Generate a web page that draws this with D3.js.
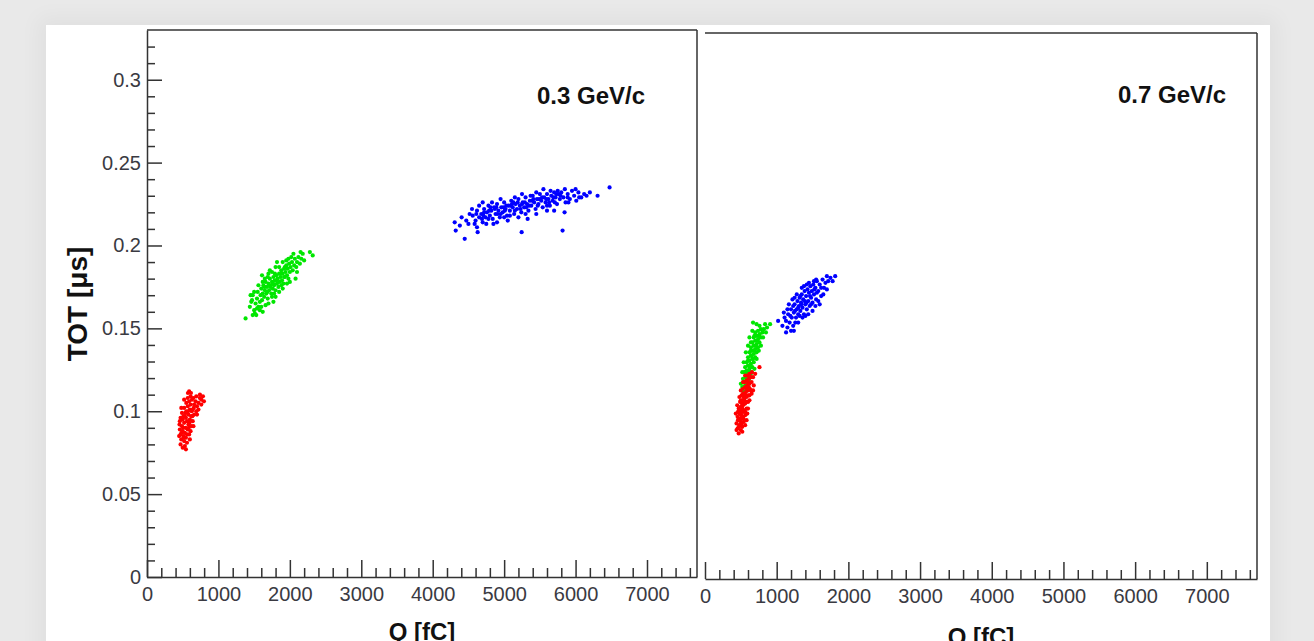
<!DOCTYPE html>
<html>
<head>
<meta charset="utf-8">
<script src="https://cdn.jsdelivr.net/npm/d3@7"></script>
<style>
  body { margin: 0; background: #e9e9e9; overflow: hidden; }
  #card { position: absolute; left: 46px; top: 25px; width: 1224px; height: 640px; background: #fff;
          box-shadow: 0 0 20px 8px rgba(0,0,0,0.04); }
  #chart { position: absolute; left: 0; top: 0; }
  text { font-family: "Liberation Sans", Arial, sans-serif; }
</style>
</head>
<body>
<div id="card"></div>
<svg id="chart" width="1314" height="641"></svg>
<script>
// tick labels
const xTicks = [0, 1000, 2000, 3000, 4000, 5000, 6000, 7000];
const yTicks = [0, 0.05, 0.1, 0.15, 0.2, 0.25, 0.3];
const xDomain = [0, 7700];
const yDomain = [0, 0.33];

// 0.3 GeV/c : [Q fC, TOT us]
const redLow = [[470,0.080],[500,0.078],[545,0.077],[520,0.082],[480,0.083],[560,0.081],[510,0.085],[470,0.086],[545,0.084],[590,0.086],[500,0.088],[530,0.087],[460,0.089],[570,0.089],[610,0.088],[490,0.091],[540,0.090],[580,0.092],[455,0.092],[520,0.093],[620,0.091],[500,0.095],[560,0.094],[600,0.095],[470,0.096],[640,0.094],[530,0.097],[580,0.098],[620,0.097],[490,0.099],[550,0.100],[660,0.098],[600,0.101],[520,0.102],[570,0.103],[640,0.101],[690,0.100],[610,0.104],[550,0.105],[660,0.104],[590,0.106],[700,0.103],[630,0.107],[570,0.108],[680,0.106],[720,0.105],[610,0.109],[650,0.108],[740,0.108],[690,0.109],[573,0.111],[615,0.111],[741,0.110],[783,0.109],[797,0.106],[760,0.104],[545,0.096],[505,0.090],[485,0.087],[530,0.079],[595,0.093],[625,0.100],[575,0.100],[540,0.099],[655,0.102],[510,0.097],[560,0.086],[515,0.084],[585,0.090],[635,0.097],[450,0.085],[600,0.083],[460,0.094],[650,0.091],[480,0.102],[700,0.098],[520,0.107],[720,0.101],[590,0.112],[760,0.107]];
const greenLow = [[1380,0.156],[1510,0.159],[1440,0.163],[1470,0.167],[1500,0.161],[1520,0.165],[1480,0.170],[1540,0.168],[1560,0.163],[1550,0.172],[1580,0.166],[1590,0.170],[1600,0.174],[1610,0.167],[1620,0.171],[1630,0.176],[1640,0.169],[1650,0.173],[1660,0.178],[1670,0.171],[1680,0.175],[1690,0.168],[1700,0.177],[1710,0.173],[1720,0.180],[1730,0.175],[1740,0.171],[1750,0.178],[1760,0.174],[1770,0.181],[1780,0.176],[1790,0.179],[1800,0.173],[1810,0.182],[1820,0.177],[1830,0.180],[1840,0.175],[1850,0.183],[1860,0.178],[1870,0.181],[1880,0.185],[1890,0.179],[1900,0.183],[1910,0.177],[1920,0.186],[1930,0.181],[1940,0.184],[1950,0.188],[1960,0.182],[1970,0.186],[1980,0.180],[1990,0.189],[2000,0.184],[2010,0.187],[2030,0.190],[2040,0.185],[2060,0.188],[2070,0.192],[2090,0.187],[2100,0.190],[2120,0.193],[2140,0.189],[2160,0.192],[2180,0.195],[2200,0.191],[2280,0.196],[2320,0.194],[1580,0.161],[1660,0.164],[1750,0.169],[1850,0.172],[1960,0.177],[1620,0.178],[1700,0.183],[1800,0.187],[1900,0.190],[2050,0.195],[1725,0.176],[1765,0.177],[1815,0.179],[1685,0.172],[1875,0.183],[1645,0.175],[1790,0.183],[1920,0.181],[1450,0.170],[1500,0.172],[1530,0.158],[1600,0.163],[1650,0.180],[1700,0.165],[1750,0.184],[1800,0.169],[1850,0.187],[1900,0.174],[1950,0.191],[2000,0.178],[2100,0.184],[2150,0.196],[1560,0.176],[1690,0.181],[1820,0.190],[1480,0.158],[1620,0.160],[1770,0.166],[1980,0.192],[2080,0.180],[1540,0.162],[1720,0.185],[1880,0.176],[1610,0.182],[1460,0.166],[1780,0.171],[1930,0.187],[2020,0.193]];
const blueLow = [[4308,0.214],[4322,0.209],[4448,0.204],[4629,0.208],[5245,0.208],[5818,0.209],[5329,0.216],[5846,0.220],[6308,0.230],[6476,0.235],[6154,0.230],[4405,0.217],[4517,0.219],[4587,0.213],[4380,0.212],[4470,0.215],[4560,0.218],[4600,0.215],[4620,0.221],[4650,0.217],[4680,0.219],[4700,0.214],[4720,0.222],[4740,0.217],[4760,0.220],[4780,0.224],[4800,0.218],[4820,0.221],[4840,0.216],[4860,0.223],[4880,0.219],[4900,0.225],[4920,0.221],[4940,0.217],[4960,0.223],[4980,0.220],[5000,0.226],[5020,0.222],[5040,0.218],[5060,0.224],[5080,0.221],[5100,0.227],[5120,0.223],[5140,0.219],[5160,0.225],[5180,0.222],[5200,0.228],[5220,0.224],[5240,0.220],[5260,0.226],[5280,0.223],[5300,0.229],[5320,0.225],[5340,0.221],[5360,0.227],[5380,0.224],[5400,0.230],[5420,0.226],[5440,0.222],[5460,0.228],[5480,0.225],[5500,0.231],[5520,0.227],[5540,0.223],[5560,0.229],[5580,0.226],[5600,0.231],[5620,0.228],[5640,0.224],[5660,0.230],[5680,0.227],[5700,0.232],[5720,0.229],[5740,0.225],[5760,0.231],[5780,0.228],[5800,0.232],[5830,0.229],[5860,0.226],[5890,0.231],[5920,0.228],[5950,0.233],[5980,0.230],[6010,0.227],[6040,0.232],[6080,0.229],[6120,0.231],[6000,0.234],[5850,0.234],[5650,0.233],[4650,0.224],[4750,0.213],[4900,0.214],[5050,0.215],[5200,0.217],[5450,0.219],[5600,0.221],[4720,0.220],[4870,0.222],[5030,0.224],[5150,0.221],[5310,0.223],[5470,0.224],[5590,0.228],[5710,0.226],[4950,0.219],[5250,0.225],[5370,0.230],[5110,0.225],[4830,0.226],[4690,0.216],[4790,0.221],[4890,0.223],[4990,0.223],[5090,0.224],[5190,0.226],[5290,0.226],[5390,0.227],[5490,0.228],[5690,0.229],[5790,0.230],[5890,0.229],[4610,0.219],[4710,0.218],[4810,0.223],[4910,0.219],[5010,0.221],[5130,0.226],[5230,0.222],[5350,0.224],[5410,0.228],[5530,0.229],[5630,0.226],[5730,0.231],[4500,0.213],[4550,0.222],[4700,0.226],[4850,0.213],[5000,0.217],[5150,0.229],[5300,0.219],[5450,0.232],[5600,0.224],[5750,0.233],[5900,0.226],[6050,0.229],[6200,0.232],[4620,0.211],[4950,0.228],[5250,0.231],[5550,0.234],[5700,0.221],[4780,0.216],[5080,0.218]];

// 0.7 GeV/c
const redHigh = [[470,0.088],[500,0.090],[455,0.091],[520,0.089],[480,0.093],[440,0.094],[510,0.094],[470,0.096],[540,0.095],[495,0.097],[455,0.098],[525,0.098],[560,0.099],[480,0.100],[510,0.101],[545,0.102],[470,0.103],[580,0.103],[500,0.104],[530,0.105],[560,0.106],[490,0.107],[600,0.107],[520,0.108],[550,0.109],[580,0.110],[510,0.111],[620,0.111],[545,0.112],[570,0.113],[600,0.114],[530,0.115],[640,0.114],[560,0.116],[590,0.117],[620,0.118],[555,0.119],[650,0.119],[580,0.120],[610,0.121],[640,0.122],[590,0.123],[670,0.122],[620,0.124],[700,0.124],[655,0.125],[760,0.128],[500,0.095],[530,0.101],[505,0.099],[475,0.092],[520,0.103],[545,0.107],[565,0.111],[585,0.115],[600,0.119],[535,0.097],[490,0.102],[515,0.106],[540,0.110],[625,0.115],[460,0.096],[575,0.107],[605,0.111],[495,0.093],[430,0.100],[560,0.093],[450,0.105],[590,0.100],[480,0.110],[620,0.108],[500,0.114],[650,0.112],[530,0.119],[680,0.117],[560,0.123],[520,0.092],[600,0.103],[460,0.101],[530,0.112],[670,0.114],[610,0.116],[560,0.101],[500,0.108],[440,0.090],[580,0.096]];
const greenHigh = [[540,0.113],[575,0.114],[520,0.116],[560,0.117],[600,0.116],[545,0.119],[585,0.120],[530,0.121],[615,0.121],[565,0.122],[600,0.124],[550,0.125],[640,0.124],[580,0.126],[620,0.127],[560,0.128],[660,0.128],[600,0.129],[640,0.130],[580,0.131],[680,0.131],[620,0.132],[660,0.133],[600,0.134],[700,0.134],[640,0.135],[680,0.136],[620,0.137],[720,0.137],[660,0.138],[700,0.139],[640,0.140],[740,0.140],[680,0.141],[720,0.142],[660,0.143],[760,0.143],[700,0.144],[740,0.145],[680,0.146],[780,0.146],[720,0.147],[760,0.148],[700,0.149],[800,0.149],[740,0.150],[780,0.151],[820,0.151],[670,0.155],[838,0.154],[908,0.154],[760,0.153],[610,0.126],[650,0.135],[690,0.138],[730,0.144],[590,0.123],[630,0.128],[670,0.133],[710,0.141],[750,0.147],[560,0.125],[575,0.118],[865,0.152],[640,0.143],[500,0.118],[620,0.119],[520,0.125],[650,0.125],[540,0.131],[690,0.127],[570,0.137],[720,0.133],[600,0.141],[750,0.138],[620,0.146],[780,0.141],[660,0.150],[810,0.146],[720,0.154],[850,0.149],[580,0.116],[600,0.132],[640,0.138],[690,0.147]];
const blueHigh = [[1020,0.156],[1131,0.149],[1080,0.153],[1110,0.158],[1150,0.152],[1160,0.160],[1180,0.155],[1200,0.163],[1210,0.158],[1230,0.153],[1240,0.161],[1250,0.166],[1270,0.158],[1280,0.163],[1290,0.168],[1300,0.160],[1310,0.165],[1320,0.170],[1330,0.162],[1340,0.167],[1350,0.172],[1360,0.164],[1370,0.169],[1380,0.160],[1390,0.174],[1400,0.166],[1410,0.171],[1420,0.163],[1430,0.175],[1440,0.168],[1450,0.173],[1460,0.165],[1470,0.177],[1480,0.170],[1490,0.174],[1500,0.167],[1510,0.178],[1520,0.172],[1540,0.176],[1550,0.169],[1560,0.180],[1580,0.174],[1600,0.178],[1620,0.171],[1640,0.181],[1660,0.176],[1680,0.179],[1718,0.180],[1750,0.182],[1816,0.183],[1230,0.165],[1330,0.171],[1260,0.155],[1360,0.158],[1420,0.178],[1540,0.165],[1390,0.168],[1345,0.166],[1415,0.167],[1465,0.171],[1300,0.164],[1190,0.159],[1580,0.168],[1130,0.156],[1255,0.162],[1525,0.175],[1150,0.163],[1200,0.150],[1250,0.170],[1300,0.155],[1350,0.176],[1400,0.159],[1450,0.179],[1500,0.162],[1550,0.181],[1600,0.166],[1650,0.172],[1700,0.175],[1100,0.161],[1170,0.166],[1280,0.172],[1440,0.160],[1380,0.177],[1560,0.173],[1620,0.176],[1480,0.166],[1320,0.159],[1220,0.169],[1520,0.180],[1700,0.183],[1780,0.180],[1240,0.150]];

const colors = { red: '#ff0000', green: '#00e600', blue: '#0000ff' };

/** One framed ROOT-style scatter pad. */
class Pad {
    constructor(svg, left, top, right, bottom) {
        this.g = svg.append('g');
        this.left = left; this.top = top; this.right = right; this.bottom = bottom;
        this.x = d3.scaleLinear().domain(xDomain).range([left, right]);
        this.y = d3.scaleLinear().domain(yDomain).range([bottom, top]);
    }

    drawFrame() {
        let f = this.g.append('g').attr('fill', 'none').attr('stroke', '#333').attr('stroke-width', 1.5);
        f.append('line').attr('x1', this.left).attr('x2', this.right).attr('y1', this.top).attr('y2', this.top);
        f.append('line').attr('x1', this.right).attr('x2', this.right).attr('y1', this.top).attr('y2', this.bottom);
    }

    drawXAxis() {
        let minor = d3.range(0, xDomain[1] + 1, 200).filter(v => v % 1000 !== 0);
        this.g.append('g')
            .attr('transform', 'translate(0,' + this.bottom + ')')
            .call(d3.axisBottom(this.x).tickValues(minor).tickSize(-9).tickFormat(''))
            .call(g => g.select('.domain').remove());
        let ax = this.g.append('g')
            .attr('transform', 'translate(0,' + this.bottom + ')')
            .call(d3.axisBottom(this.x).tickValues(xTicks).tickSizeInner(-17).tickSizeOuter(0)
                .tickPadding(10).tickFormat(d => String(d)));
        ax.selectAll('path').attr('stroke', '#333').attr('stroke-width', 1.5);
        ax.selectAll('text').attr('font-size', 20).attr('fill', '#3a3a42');
        this.g.selectAll('.tick line').attr('stroke', '#333').attr('stroke-width', 1.5);
    }

    drawYAxis() {
        let minor = d3.range(0, 0.33, 0.01).filter(v => Math.round(v * 100) % 5 !== 0);
        this.g.append('g')
            .attr('transform', 'translate(' + this.left + ',0)')
            .call(d3.axisLeft(this.y).tickValues(minor).tickSize(-8).tickFormat(''))
            .call(g => g.select('.domain').remove());
        let ay = this.g.append('g')
            .attr('transform', 'translate(' + this.left + ',0)')
            .call(d3.axisLeft(this.y).tickValues(yTicks).tickSizeInner(-15).tickSizeOuter(0)
                .tickPadding(6).tickFormat(d => String(d)));
        ay.selectAll('text').attr('font-size', 20).attr('fill', '#3a3a42');
        this.g.selectAll('.tick line').attr('stroke', '#333').attr('stroke-width', 1.5);
        ay.select('.domain').attr('stroke', '#333').attr('stroke-width', 1.5);
    }

    drawPoints(data, color) {
        this.g.append('g')
            .selectAll('circle')
            .data(data)
            .enter().append('circle')
            .attr('cx', d => this.x(d[0]))
            .attr('cy', d => this.y(d[1]))
            .attr('r', 2.1)
            .attr('fill', color);
    }

    label(text, x, y) {
        this.g.append('text')
            .attr('x', x).attr('y', y)
            .attr('font-size', 24).attr('font-weight', 'bold').attr('fill', '#111')
            .text(text);
    }
}

let svg = d3.select('#chart');

let low = new Pad(svg, 147, 30, 697, 577);
low.drawFrame();
low.drawYAxis();
low.drawXAxis();
low.drawPoints(redLow, colors.red);
low.drawPoints(greenLow, colors.green);
low.drawPoints(blueLow, colors.blue);
low.label('0.3 GeV/c', 537, 104);

let high = new Pad(svg, 705, 33, 1257, 579);
high.drawFrame();
high.drawXAxis();
high.drawPoints(greenHigh, colors.green);
high.drawPoints(redHigh, colors.red);
high.drawPoints(blueHigh, colors.blue);
high.label('0.7 GeV/c', 1118, 103);

// axis titles
svg.append('text')
    .attr('transform', 'translate(87,304) rotate(-90)')
    .attr('text-anchor', 'middle')
    .attr('font-size', 28).attr('font-weight', 'bold').attr('fill', '#111')
    .text('TOT [μs]');
svg.append('text')
    .attr('x', 422).attr('y', 640)
    .attr('text-anchor', 'middle')
    .attr('font-size', 24).attr('font-weight', 'bold').attr('fill', '#111')
    .text('Q [fC]');
svg.append('text')
    .attr('x', 981).attr('y', 645)
    .attr('text-anchor', 'middle')
    .attr('font-size', 24).attr('font-weight', 'bold').attr('fill', '#111')
    .text('Q [fC]');
</script>
</body>
</html>
